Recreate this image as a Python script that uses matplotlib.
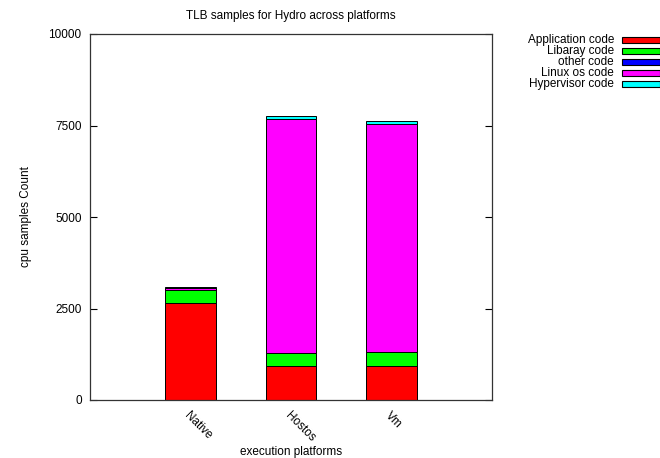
import numpy as np
import matplotlib.pyplot as plt
from matplotlib.patches import Rectangle

plt.rcParams["font.family"] = ["Liberation Sans", "DejaVu Sans"]
plt.rcParams["font.size"] = 8.5

# 数据
platforms = ["Native", "Hostos", "Vm"]
series_names = ["Application code", "Libaray code", "other code", "Linux os code", "Hypervisor code"]
colors = ["#ff0000", "#00ff00", "#0000ff", "#ff00ff", "#00ffff"]
app_code = [2640, 920, 920]
lib_code = [355, 365, 390]
other_code = [20, 5, 5]
linux_code = [40, 6380, 6235]
hyper_code = [35, 90, 82]

values = [app_code, lib_code, other_code, linux_code, hyper_code]

fig = plt.figure(figsize=(6.6, 4.58), dpi=100)
ax = fig.add_axes([90 / 660, 58 / 458, 402 / 660, 366 / 458])

x = np.arange(1, len(platforms) + 1)
bottom = np.zeros(len(platforms))
for vals, c in zip(values, colors):
    ax.bar(x, vals, 0.5, bottom=bottom, color=c, edgecolor="black", linewidth=0.7)
    bottom += np.array(vals)

ax.set_xlim(0, 4)
ax.set_ylim(0, 10000)
ax.set_yticks([0, 2500, 5000, 7500, 10000])
ax.tick_params(axis="y", direction="in", right=True, length=5, width=0.8, pad=6)
ax.set_xticks(x)
ax.set_xticklabels(platforms, rotation=-45, ha="left", va="top", rotation_mode="anchor")
ax.tick_params(axis="x", length=0, pad=7)
for s in ax.spines.values():
    s.set_linewidth(0.9)
    s.set_color("#333333")

ax.set_title("TLB samples for Hydro across platforms", fontsize=8.5, pad=11)
ax.set_ylabel("cpu samples Count", labelpad=12)
ax.set_xlabel("execution platforms", labelpad=1)

# 图例 (gnuplot 风格, 文字右对齐, 色块在右)
for i, (name, c) in enumerate(zip(series_names, colors)):
    y = 1 - (40 + i * 11) / 458
    fig.text(614 / 660, y, name, ha="right", va="center", fontsize=8.5)
    fig.patches.append(Rectangle((622 / 660, y - 3 / 458), 38 / 660, 6 / 458,
                                 transform=fig.transFigure, facecolor=c,
                                 edgecolor="black", linewidth=0.8))

fig.savefig("out.png", dpi=100)
